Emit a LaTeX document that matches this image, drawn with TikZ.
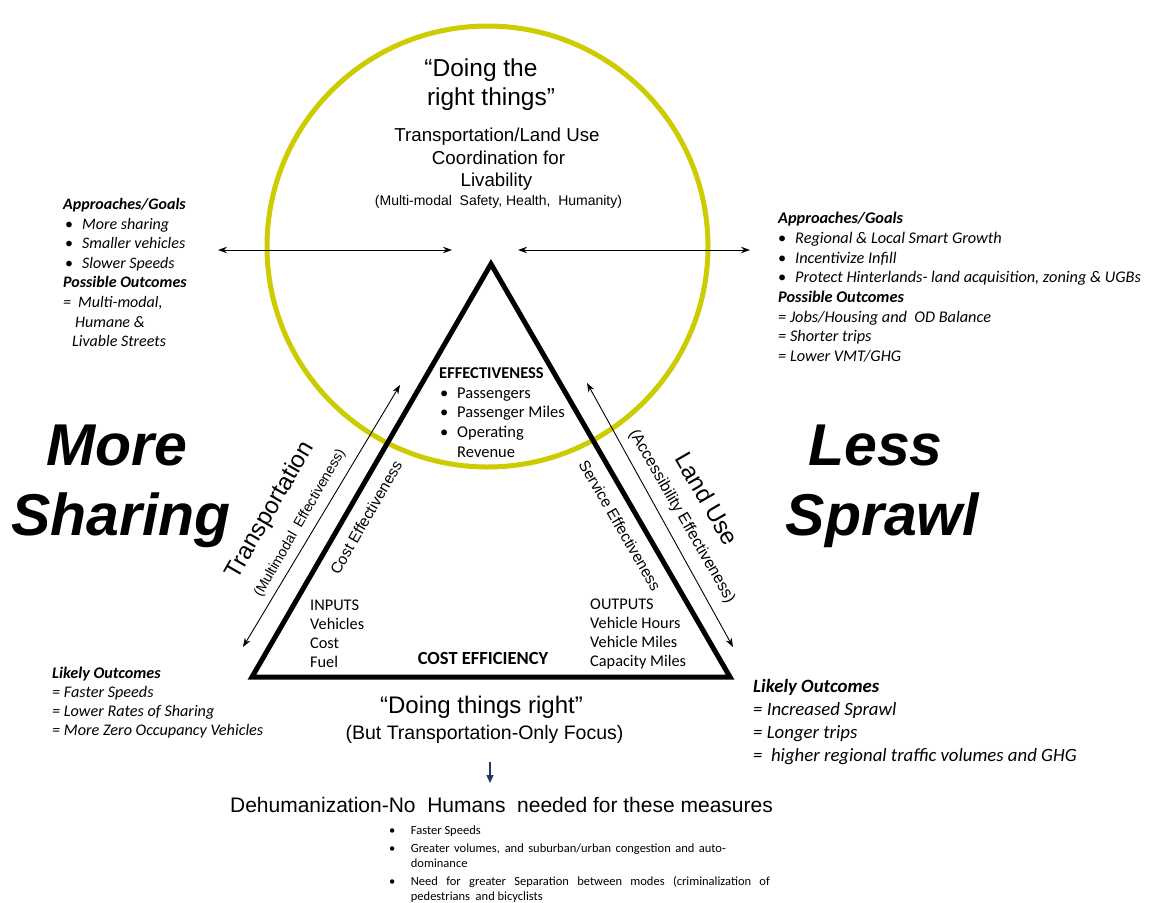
\documentclass[tikz,border=0pt]{standalone}
\usepackage{fontspec}
\setmainfont{Liberation Sans}
\newfontfamily\calfont{Carlito}
\usetikzlibrary{arrows.meta}
\definecolor{ring}{RGB}{204,204,0}
\definecolor{navy}{RGB}{31,56,100}
\newcommand\fsz[2]{\fontsize{#1}{#2}\selectfont}
\newcommand\bul[1]{\makebox[#1][l]{\upshape\textbullet}}
\begin{document}
\begin{tikzpicture}[x=1pt,y=-1pt,
  dbl/.style={{Stealth[length=9pt,width=6.5pt]}-{Stealth[length=9pt,width=6.5pt]}, line width=0.9pt},
  block/.style={inner sep=0pt, align=left, anchor=north west},
  arial/.style={inner sep=0pt, anchor=base},
  big/.style={inner sep=0pt, anchor=base, font=\bfseries\itshape\fsz{59}{59}},
  slant/.style={inner sep=0pt}
]
\useasboundingbox (0,0) rectangle (1155,902);
\fill[white] (0,0) rectangle (1155,902);

% ring and triangle
\node[draw=ring, line width=5pt, circle, minimum size=441pt, inner sep=0pt] (ringc) at (487.5,246.5) {};
\coordinate (A) at (491,264);
\coordinate (L) at (252,677);
\coordinate (R) at (730,677);
\draw[line width=5pt, line join=miter] (A) -- (L) -- (R) -- cycle;

% arrows
\coordinate (hl1) at (218,250); \coordinate (hl2) at (452,250);
\coordinate (hr1) at (518,250); \coordinate (hr2) at (750,250);
\coordinate (dl1) at (400,385); \coordinate (dl2) at (243,647);
\coordinate (dr1) at (587,383); \coordinate (dr2) at (733,647);
\draw[dbl] (hl1) -- (hl2);
\draw[dbl] (hr1) -- (hr2);
\draw[dbl] (dl1) -- (dl2);
\draw[dbl] (dr1) -- (dr2);

% top texts
\node[arial, font=\fsz{24.5}{29}] (dt1) at (481,76) {“Doing the};
\node[arial, font=\fsz{24.5}{29}] (dt2) at (491,105.5) {right things”};
\node[arial, font=\fsz{18.7}{22}] (tl1) at (497,141.7) {Transportation/Land Use};
\node[arial, font=\fsz{18.7}{22}] (tl2) at (498.5,164) {Coordination for};
\node[arial, font=\fsz{18.7}{22}] (tl3) at (496.5,186.7) {Livability};
\node[arial, font=\fsz{14}{16}] (tl4) at (498.5,205) {(Multi-modal\ \ Safety, Health,\ \ Humanity)};

% left goals
\node[block, font=\calfont\itshape\fsz{16}{19.6}] (lgoals) at (63,198) {%
\textbf{Approaches/Goals}\\
\hspace*{2pt}\bul{17pt}More sharing\\
\hspace*{2pt}\bul{17pt}Smaller vehicles\\
\hspace*{2pt}\bul{17pt}Slower Speeds\\
\textbf{Possible Outcomes}\\
=\hspace*{7pt}Multi-modal,\\
\hspace*{12pt}Humane \&\\
\hspace*{9pt}Livable Streets};

% right goals
\node[block, font=\calfont\itshape\fsz{16.3}{19.7}] (rgoals) at (778,212) {%
\textbf{Approaches/Goals}\\
\bul{17pt}Regional \& Local Smart Growth\\
\bul{17pt}Incentivize Infill\\
\bul{17pt}Protect Hinterlands- land acquisition, zoning \& UGBs\\
\textbf{Possible Outcomes}\\
= Jobs/Housing and\ \ OD Balance\\
= Shorter trips\\
= Lower VMT/GHG};

% effectiveness
\node[block, font=\calfont\fsz{16.5}{19.7}] (eff) at (439,367.5) {%
\textbf{EFFECTIVENESS}\\
\hspace*{1pt}\bul{17pt}Passengers\\
\hspace*{1pt}\bul{17pt}Passenger Miles\\
\hspace*{1pt}\bul{17pt}Operating\\
\hspace*{18pt}Revenue};

% big words
\node[big] (more) at (117,465) {More};
\node[big] (sharing) at (121,535) {Sharing};
\node[big] (less) at (875.5,465) {Less};
\node[big] (sprawl) at (882.5,535) {Sprawl};

% slanted labels
\node[slant, rotate=60, font=\fsz{24}{24}] (trans) at (270.5,510.5) {Transportation};
\node[slant, rotate=60, font=\fsz{14}{14}] (transe) at (300,523.3) {(Multimodal\ \ Effectiveness)};
\node[slant, rotate=60, font=\fsz{15.5}{15.5}] (coste) at (366,517.5) {Cost Effectiveness};
\node[slant, rotate=-60, font=\fsz{24}{24}] (landu) at (707.3,498.8) {Land Use};
\node[slant, rotate=-60, font=\fsz{16}{16}] (lande) at (681.7,516.3) {(Accessibility Effectiveness)};
\node[slant, rotate=-60, font=\fsz{15.5}{15.5}] (serve) at (620,525.5) {Service Effectiveness};

% inputs / outputs
\node[block, font=\calfont\fsz{16.3}{19}] (inputs) at (310,600) {INPUTS\\Vehicles\\Cost\\Fuel};
\node[block, font=\calfont\fsz{16.3}{19}] (outputs) at (590,598.5) {OUTPUTS\\Vehicle Hours\\Vehicle Miles\\Capacity Miles};
\node[arial, font=\calfont\bfseries\fsz{18.5}{19}] (costeff) at (483,664) {COST EFFICIENCY};

% likely outcomes
\node[block, font=\calfont\itshape\fsz{16.2}{19.3}] (lout) at (52,666.5) {%
\textbf{Likely Outcomes}\\
= Faster Speeds\\
= Lower Rates of Sharing\\
= More Zero Occupancy Vehicles};
\node[block, font=\calfont\itshape\fsz{18.8}{23}] (rout) at (753,679) {%
\textbf{Likely Outcomes}\\
= Increased Sprawl\\
= Longer trips\\
=\ \ higher regional traffic volumes and GHG};

% bottom
\node[arial, font=\fsz{24}{24}] (dtr) at (481.5,713) {“Doing things right”};
\node[arial, font=\fsz{19.5}{19.5}] (but) at (484.5,739) {(But Transportation-Only Focus)};
\coordinate (ar1) at (490,762); \coordinate (ar2) at (490,783);
\draw[navy, line width=1.3pt, -{Triangle[length=8pt,width=7pt]}] (ar1) -- (ar2);
\node[arial, font=\fsz{21}{21}] (dehum) at (501.5,812) {Dehumanization-No\ \ Humans\ \ needed for these measures};
\node[block, font=\calfont\fsz{12.5}{15}] (blist) at (389,825.5) {%
\bul{21.7pt}Faster Speeds\\[3pt]
\bul{21.7pt}\makebox[315pt][s]{Greater volumes, and suburban/urban congestion and auto-}\\
\hspace*{21.7pt}dominance\\[3pt]
\bul{21.7pt}\makebox[359pt][s]{Need for greater Separation between modes (criminalization of}\\
\hspace*{21.7pt}pedestrians\ \ and bicyclists};
\end{tikzpicture}
\end{document}
